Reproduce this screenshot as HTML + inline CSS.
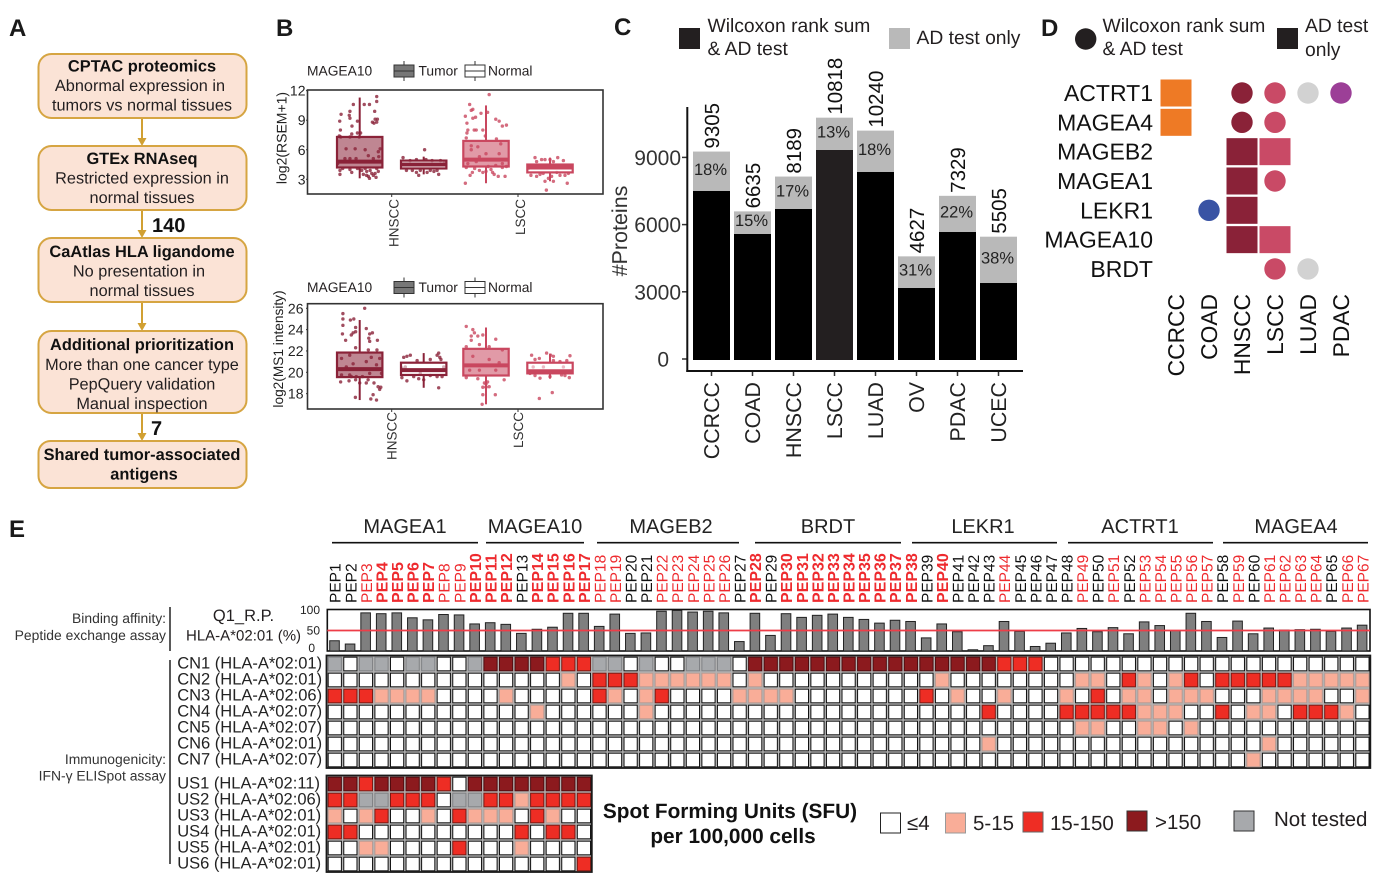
<!DOCTYPE html>
<html lang="en">
<head>
<meta charset="utf-8">
<title>Tumor-associated antigen figure</title>
<style>
html,body{margin:0;padding:0;background:#fff;}
svg{display:block;font-family:"Liberation Sans",Arial,sans-serif;fill:#231f20;text-rendering:geometricPrecision;}
.flow{fill:#fbe3d6;stroke:#d6a542;stroke-width:2;}
.ft{font-size:16.3px;text-anchor:middle;fill:#231f20;}
.fb{font-size:16.4px;text-anchor:middle;font-weight:bold;fill:#111;}
.arrow{stroke:#d1a032;stroke-width:2;fill:none;}
.arrowhead{fill:#d1a032;stroke:none;}
.panel{font-size:24px;font-weight:bold;fill:#1a1a1a;}
.lg{font-size:19.3px;}
.e14{font-size:13.9px;text-anchor:end;fill:#333;}
.sfu{font-size:20.8px;font-weight:bold;text-anchor:middle;fill:#111;}
.key{font-size:20.5px;}
</style>
</head>
<body>
<svg id="fig" xmlns="http://www.w3.org/2000/svg" width="1396" height="885" viewBox="0 0 1396 885">

<!-- Panel letters -->
<text class="panel" x="9" y="36">A</text>
<text class="panel" x="276" y="36">B</text>
<text class="panel" x="614" y="35">C</text>
<text class="panel" x="1041" y="36">D</text>
<text class="panel" x="9" y="537">E</text>

<!-- Panel A flow -->
<g>
  <g>
    <line class="arrow" x1="142" y1="118" x2="142" y2="140"/><path class="arrowhead" d="M137.5 138h9l-4.500 8z"/>
    <line class="arrow" x1="142" y1="210" x2="142" y2="232"/><path class="arrowhead" d="M137.500 230h9l-4.500 8z"/>
    <line class="arrow" x1="142" y1="302" x2="142" y2="325"/><path class="arrowhead" d="M137.500 323h9l-4.500 8z"/>
    <line class="arrow" x1="142" y1="413" x2="142" y2="435"/><path class="arrowhead" d="M137.500 433h9l-4.500 8z"/>
  </g>
  <rect class="flow" x="38.500" y="54" width="208" height="64" rx="13"/>
  <text class="fb" x="142" y="71.700">CPTAC proteomics</text>
  <text class="ft" x="140" y="91">Abnormal expression in</text>
  <text class="ft" x="142" y="110.500">tumors vs normal tissues</text>

  <rect class="flow" x="38.500" y="146" width="208" height="64" rx="13"/>
  <text class="fb" x="142" y="164">GTEx RNAseq</text>
  <text class="ft" x="142" y="183.500">Restricted expression in</text>
  <text class="ft" x="142" y="203">normal tissues</text>
  <text x="152" y="232" font-size="20" font-weight="bold" fill="#111">140</text>

  <rect class="flow" x="38.500" y="238" width="208" height="64" rx="13"/>
  <text class="fb" x="142" y="257">CaAtlas HLA ligandome</text>
  <text class="ft" x="139" y="276.500">No presentation in</text>
  <text class="ft" x="142" y="296">normal tissues</text>

  <rect class="flow" x="38.500" y="331" width="208" height="82" rx="13"/>
  <text class="fb" x="142" y="350">Additional prioritization</text>
  <text class="ft" x="142" y="370">More than one cancer type</text>
  <text class="ft" x="142" y="389.500">PepQuery validation</text>
  <text class="ft" x="142" y="409">Manual inspection</text>
  <text x="151" y="435" font-size="20" font-weight="bold" fill="#111">7</text>

  <rect class="flow" x="38.500" y="441" width="208" height="47" rx="12"/>
  <text class="fb" x="142" y="460">Shared tumor-associated</text>
  <text class="fb" x="144" y="479.500">antigens</text>
</g>

<!-- Panel B legends -->
<g id="panelB"></g>

<!-- Panel C legend -->
<g>
  <rect x="679" y="28" width="21" height="21" fill="#231f20"/>
  <text class="lg" x="707.500" y="32">Wilcoxon rank sum</text>
  <text class="lg" x="707.500" y="55">&amp; AD test</text>
  <rect x="889" y="28" width="21" height="21" fill="#b9b9b9"/>
  <text class="lg" x="916.500" y="44">AD test only</text>
</g>
<g id="panelC"></g>
<text x="627" y="231" font-size="21.500" text-anchor="middle" fill="#333" transform="rotate(-90 627 231)">#Proteins</text>

<!-- Panel D legend -->
<g>
  <circle cx="1085.700" cy="39" r="10.700" fill="#231f20"/>
  <text class="lg" x="1102.500" y="32">Wilcoxon rank sum</text>
  <text class="lg" x="1102.500" y="55">&amp; AD test</text>
  <rect x="1277" y="28" width="21" height="21" fill="#231f20"/>
  <text class="lg" x="1305" y="32">AD test</text>
  <text class="lg" x="1305" y="56">only</text>
</g>
<g id="panelD"></g>

<!-- Panel E static labels -->
<g>
  <text class="e14" x="166" y="623">Binding affinity:</text>
  <text class="e14" x="166" y="640">Peptide exchange assay</text>
  <text class="e14" x="166" y="764">Immunogenicity:</text>
  <text class="e14" x="166" y="780.500">IFN-γ ELISpot assay</text>
  <line x1="170" y1="607" x2="170" y2="651" stroke="#222" stroke-width="1.500"/>
  <line x1="170" y1="660" x2="170" y2="864" stroke="#222" stroke-width="1.500"/>
  <text x="243.500" y="621" font-size="16.500" text-anchor="middle">Q1_R.P.</text>
  <text x="186" y="640.500" font-size="15">HLA-A*02:01 (%)</text>
</g>
<g id="panelE"></g>

<!-- SFU legend -->
<g>
  <text class="sfu" x="730" y="818">Spot Forming Units (SFU)</text>
  <text class="sfu" x="733" y="843">per 100,000 cells</text>
  <rect x="880.500" y="813" width="20" height="20" fill="#fff" stroke="#222" stroke-width="1"/>
  <text class="key" x="907" y="830">≤4</text>
  <rect x="945.500" y="813" width="20" height="20" fill="#f9ad98" stroke="#999" stroke-width="1"/>
  <text class="key" x="973" y="830">5-15</text>
  <rect x="1023" y="812" width="20" height="20" fill="#ee2d24" stroke="#666" stroke-width="1"/>
  <text class="key" x="1050" y="830">15-150</text>
  <rect x="1127" y="811" width="20" height="20" fill="#8c1a1e" stroke="#333" stroke-width="1"/>
  <text class="key" x="1155" y="829">&gt;150</text>
  <rect x="1234" y="811" width="20" height="20" fill="#a7a9ac" stroke="#333" stroke-width="1"/>
  <text class="key" x="1274" y="826">Not tested</text>
</g>
</svg>

<script>
/* ---------- Panel B data: order HNSCC tumor, HNSCC normal, LSCC tumor, LSCC normal ---------- */
const boxCategories = ['HNSCC', 'LSCC'];
const boxSeriesColors = ['#8a2238', '#8a2238', '#c9475f', '#c9475f'];
const rsemTicks = [3, 6, 9, 12];
const rsemQ1 = [4.2, 4.1, 4.3, 3.7];
const rsemMedian = [4.8, 4.5, 5.0, 4.2];
const rsemQ3 = [7.3, 4.9, 6.9, 4.5];
const rsemLow = [3.1, 3.5, 2.6, 2.8];
const rsemHigh = [11.3, 5.3, 10.5, 5.2];
const rsemPoints = [
 [[.75,11.4],[.75,10.9],[-.28,10.6],[.2,10.6],[.43,10.6],[-.43,9.9],[-.82,9.6],[.66,9.9],[-.46,9.5],[-.43,9.2],[-.88,8.9],[-.1,8.9],[.56,8.8],[.68,9.1],[.78,9.1],[.63,8.7],[.75,8.8],[-.34,8.4],[-.85,8],[-.35,7.6],[-.1,7.7],[.04,7.7],[-.43,7.3],[-.9,7.4],[-.84,7.3],[-.02,7.3],[-.6,6.1],[-.2,6.1],[.24,6],[.9,6.1],[.82,5.8],[-.65,5.1],[-.43,5.1],[-.16,5.1],[.38,5.4],[.6,5.1],[.84,5.3],[-.87,3.9],[-.87,3.5],[-.75,4.1],[-.43,4],[-.35,3.7],[-.1,4.1],[.24,4.1],[.31,3.8],[.38,3.3],[.43,3.1],[.53,3.6],[.68,3.6],[.82,3.8],[.16,3.5],[.09,3.9],[.46,3.9],[.75,4.1],[-.97,4.6],[.6,3.4],[.72,3.2],[.3,3.4]],
 [[-.91,5.2],[.04,6],[-.32,5],[.37,4.9],[.74,4.9],[.91,4.8],[-.76,3.9],[-.32,3.7],[-.22,3.4],[.59,3.9],[.66,3.5],[.15,3.7],[.29,3.9],[-.5,3.9],[-.15,3.9],[.45,3.8],[-.6,4.9],[.1,5]],
 [[.14,11.6],[-.72,10.6],[-.65,10],[-.58,10.1],[-.22,9.7],[.07,9.8],[-.91,9.4],[-.58,9.2],[-.46,9.3],[.43,9.1],[.58,8.9],[-.84,8.7],[.72,8.4],[.9,8.5],[-.8,8],[-.52,8],[-.43,8],[-.14,8],[-.84,7.7],[-.03,7.4],[-.87,7.2],[.46,7.1],[.65,6.6],[-.65,6.4],[-.36,6.3],[0,5.6],[.58,5.6],[-.65,6],[-.29,5.3],[.72,4.6],[-.8,4.6],[-.43,4.8],[.43,4.4],[-.91,2.6],[-.6,3.7],[-.14,3.7],[.29,3.7],[.54,3.3],[.84,3.3],[-.87,4.2],[-.5,4.1],[-.29,3.9],[0,3.8],[.22,4],[.36,3.5],[.72,4.2],[.9,4.3],[-.7,3.4],[.1,4.3]],
 [[-.66,5.2],[.34,5.2],[-.37,5],[-.22,5],[0,5],[.59,4.9],[-.59,4.8],[.15,4.8],[-.84,3.4],[-.59,3.3],[-.44,3.5],[-.16,1.9],[-.22,2.8],[.15,2.8],[.76,2.6],[.44,3.4],[.66,3.4],[-.07,3.1],[.07,3.3],[.81,3.6],[.96,4.4],[-.95,4.1],[-.3,3.6],[.3,3.7]]
];
const msTicks = [18, 20, 22, 24, 26];
const msQ1 = [19.55, 19.75, 19.7, 19.9];
const msMedian = [20.3, 20.2, 20.65, 20.1];
const msQ3 = [21.85, 20.9, 22.2, 20.9];
const msLow = [17.4, 18.55, 17, 19.4];
const msHigh = [24.9, 21.8, 24.2, 21.75];
const msPoints = [
 [[-.74,25.5],[.22,26],[-.74,25],[-.74,24.4],[-.41,24.9],[-.26,25],[-.18,24.2],[.29,24.1],[-.18,23.8],[-.29,23.7],[-.76,23.6],[.44,23.6],[.56,23.7],[-.37,23.5],[.4,23.2],[-.62,23],[.44,22.9],[.78,23],[-.18,22.3],[.38,22.1],[.76,22.1],[-.44,21.6],[-.8,21.3],[.51,21.4],[.88,21.3],[-.59,20.5],[-.29,20.8],[.29,21],[.74,20.7],[-.8,19.75],[-.44,19.75],[-.15,19.6],[.44,19.9],[.96,19.9],[-.84,19.1],[-.47,19.2],[-.18,19.3],[0,19],[.29,19],[.63,19],[.81,18.65],[.93,18.6],[.88,18.4],[-.19,17.65],[.59,17.9],[.49,17.5],[.74,17.4],[.12,19.6],[.37,19.3],[-.37,19.6]],
 [[-.88,21.4],[-.59,21.6],[-.74,21.5],[.66,21.8],[.71,21.4],[.59,21.6],[-.29,21.1],[.29,21.2],[.76,21.2],[.88,20.5],[-.96,20.4],[-.81,20.5],[-.44,20.2],[-.15,19.9],[.15,20.2],[.5,20.2],[-.74,19.2],[-.96,19.5],[-.44,19.6],[-.22,19.4],[0,19.3],[.66,18.55],[.29,19.7],[.59,19.6],[.81,19.6]],
 [[-.87,24.3],[-.58,24],[-.51,23.7],[-.65,23.4],[-.36,23.4],[-.14,23.5],[.43,23.1],[-.65,23],[-.87,22.4],[-.29,22.6],[.14,22.4],[.72,22.1],[-.58,21.5],[.14,21.2],[.58,20.9],[-.72,20.2],[-.29,20.2],[.43,20.2],[-.87,19.5],[-.36,19.4],[-.07,19],[.07,19.1],[0,18.6],[-.14,18.6],[.8,19.3],[.14,18.65],[-.14,17.9],[.41,17.9],[-.17,17],[0,18.9]],
 [[-.81,21.6],[-.47,21.3],[-.66,21.2],[-.15,21.8],[.03,21.6],[.15,21.5],[.88,21.55],[.74,21.1],[.15,21.1],[.44,21],[-.74,20.5],[-.29,20.5],[.59,20.5],[-.66,19.7],[-.88,19.9],[-.44,19.45],[0,19.6],[.51,19.75],[.66,19.7],[.85,19.5],[-.47,17.55],[.1,18.1]]
];

/* ---------- Panel C data ---------- */
const cancerCategories = ['CCRCC','COAD','HNSCC','LSCC','LUAD','OV','PDAC','UCEC'];
const totalProteins = [9305,6635,8189,10818,10240,4627,7329,5505];
const wilcoxonAndAd = [7545,5625,6741,9375,8393,3214,5714,3437];
const adOnlyPercent = ['18%','15%','17%','13%','18%','31%','22%','38%'];
const proteinTicks = [0,3000,6000,9000];

/* ---------- Panel D data: 0 none, 1 circle, 2 square ---------- */
const dotGenes = ['ACTRT1','MAGEA4','MAGEB2','MAGEA1','LEKR1','MAGEA10','BRDT'];
const dotCancers = ['CCRCC','COAD','HNSCC','LSCC','LUAD','PDAC'];
const dotColors = ['#ee7a25','#3953a4','#8a2238','#c94a66','#d2d2d2','#9c3f97'];
const dotMatrix = [
 [2,0,1,1,1,1],
 [2,0,1,1,0,0],
 [0,0,2,2,0,0],
 [0,0,2,1,0,0],
 [0,1,2,0,0,0],
 [0,0,2,2,0,0],
 [0,0,0,1,1,0]
];

/* ---------- Panel E data ---------- */
const geneGroups = ['MAGEA1','MAGEA10','MAGEB2','BRDT','LEKR1','ACTRT1','MAGEA4'];
/* 0 black regular, 1 red regular, 2 red bold */
const pepLabelStyle = [
 0,0,1,2,2,2,2,1,1,2,
 2,2,0,2,2,2,2,1,1,0,
 0,1,1,1,1,1,0,2,0,2,
 2,2,2,2,2,2,2,2,0,2,
 0,0,0,1,0,0,0,0,1,0,
 1,0,1,1,1,1,1,0,1,0,
 1,1,1,1,0,1,1
];
const q1Percent = [
 25,17,93,91,93,81,76,89,88,66,
 69,65,43,53,58,92,92,60,90,43,
 44,97,99,95,97,93,23,92,38,91,
 82,87,90,82,77,68,75,72,32,66,
 47,3,13,72,48,11,19,44,55,47,
 57,42,71,62,50,92,72,33,73,42,
 56,51,52,53,48,56,63
];
const q1Ticks = [0,50,100];
const thresholdPercent = [50];
/* 0 <=4, 1 5-15, 2 15-150, 3 >150, 4 not tested */
const cnDonors = ['CN1 (HLA-A*02:01)','CN2 (HLA-A*02:01)','CN3 (HLA-A*02:06)','CN4 (HLA-A*02:07)','CN5 (HLA-A*02:07)','CN6 (HLA-A*02:01)','CN7 (HLA-A*02:07)'];
const cnMatrix = [
 [4,0,4,4,0,4,4,0,0,4, 3,3,3,3,2,2,2,4,4,0, 4,0,0,4,4,4,0,3,3,3, 3,3,3,3,3,3,3,3,3,3, 3,3,3,2,2,2,0,0,0,0, 0,0,0,0,0,0,0,0,0,0, 0,0,0,0,0,0,0],
 [0,0,0,0,0,0,0,0,0,0, 0,0,0,0,0,1,0,2,2,2, 1,1,1,1,1,1,0,1,0,0, 0,0,0,0,0,0,0,0,0,1, 0,0,0,0,0,0,0,0,1,1, 0,2,1,0,1,2,0,2,2,2, 2,2,1,1,1,1,1],
 [2,2,2,1,1,1,1,0,0,0, 0,1,0,0,0,0,0,2,1,0, 1,2,0,0,0,0,1,1,1,1, 0,0,0,0,0,0,0,0,2,0, 1,0,0,1,0,0,0,1,0,2, 0,1,1,0,1,1,1,0,0,0, 1,1,1,1,0,0,1],
 [0,0,0,0,0,0,0,0,0,0, 0,0,0,1,0,0,0,0,0,0, 1,0,0,0,0,0,0,0,0,0, 0,0,0,0,0,0,0,0,0,0, 0,0,2,0,0,0,0,2,2,2, 2,2,1,1,1,0,0,2,0,1, 1,0,2,2,2,1,0],
 [0,0,0,0,0,0,0,0,0,0, 0,0,0,0,0,0,0,0,0,0, 0,0,0,0,0,0,0,0,0,0, 0,0,0,0,0,0,0,0,0,0, 0,0,0,0,0,0,0,0,1,1, 0,0,1,1,0,1,0,0,0,0, 0,0,0,0,0,0,0],
 [0,0,0,0,0,0,0,0,0,0, 0,0,0,0,0,0,0,0,0,0, 0,0,0,0,0,0,0,0,0,0, 0,0,0,0,0,0,0,0,0,0, 0,0,1,0,0,0,0,0,0,0, 0,0,0,0,0,0,0,0,0,0, 1,0,0,0,0,0,0],
 [0,0,0,0,0,0,0,0,0,0, 0,0,0,0,0,0,0,0,0,0, 0,0,0,0,0,0,0,0,0,0, 0,0,0,0,0,0,0,0,0,0, 0,0,0,0,0,0,0,0,0,0, 0,0,0,0,0,0,0,0,0,1, 0,0,0,0,0,0,0]
];
const usDonors = ['US1 (HLA-A*02:11)','US2 (HLA-A*02:06)','US3 (HLA-A*02:01)','US4 (HLA-A*02:01)','US5 (HLA-A*02:01)','US6 (HLA-A*02:01)'];
const usMatrix = [
 [3,3,2,3,3,3,3,2,0,3,3,3,3,3,3,3,3],
 [2,2,4,4,2,2,2,0,4,4,2,2,1,2,2,2,2],
 [1,0,1,2,0,0,1,0,2,1,1,1,0,2,1,0,0],
 [2,2,0,0,0,0,0,0,0,0,0,0,2,0,2,2,0],
 [0,0,1,1,0,0,0,0,2,0,0,0,1,0,0,0,0],
 [0,0,0,0,0,0,0,0,0,0,0,0,0,0,0,0,2]
];

/* ---------- helpers ---------- */
const SVGNS = 'http://www.w3.org/2000/svg';
function make(tag, attrs, parent, text) {
  const node = document.createElementNS(SVGNS, tag);
  for (const k in attrs) node.setAttribute(k, attrs[k]);
  if (text !== undefined) node.textContent = text;
  parent.appendChild(node);
  return node;
}
function vText(x, y, str, size, fill, anchor, weight, parent) {
  return make('text', {x: x, y: y, 'font-size': size, fill: fill, 'text-anchor': anchor, 'font-weight': weight || 'normal', transform: 'rotate(-90 ' + x + ' ' + y + ')'}, parent, str);
}

/* ---------- Panel B ---------- */
const boxHalfWidth = 22.7;
function boxX(s) {
  const cat = Math.floor(s / 2);
  const tick = 391.7 + cat * 126.3;
  return tick + (s % 2 === 0 ? -32 : 32);
}
function drawBoxPanel(root, cfg) {
  const y = cfg.yScale;
  const frame = make('rect', {x: 307.5, y: cfg.top, width: 295.5, height: cfg.bottom - cfg.top, fill: 'none', stroke: '#333', 'stroke-width': 1.6}, root);
  
  

  const gene = make('text', {x: 307, y: cfg.legendY + 4.5, 'font-size': 13.8}, root, 'MAGEA10');
  
  

  const keyFills = ['#777', '#fff'];
  const keyX = [394, 465];
  const keyLabels = ['Tumor', 'Normal'];
  const keyTextX = [418.5, 488];
  keyFills.forEach(function (f, i) {
    const stem = make('line', {x1: keyX[i] + 10, x2: keyX[i] + 10, y1: cfg.legendY - 10, y2: cfg.legendY + 10, stroke: '#333', 'stroke-width': 1}, root);
    
    
    const kb = make('rect', {x: keyX[i], y: cfg.legendY - 6, width: 20, height: 12, fill: f, stroke: '#333', 'stroke-width': 1}, root);
    
    
    const km = make('line', {x1: keyX[i], x2: keyX[i] + 20, y1: cfg.legendY, y2: cfg.legendY, stroke: '#333', 'stroke-width': 1}, root);
    
    
    const kt = make('text', {x: keyTextX[i], y: cfg.legendY + 4.5, 'font-size': 13.8}, root, keyLabels[i]);
    
    
  });

  cfg.ticks.forEach(function (t) {
    const tm = make('line', {x1: 306, x2: 307.5, y1: y(t), y2: y(t), stroke: '#333', 'stroke-width': 1}, root);
    
    
    const tl = make('text', {x: cfg.tickEnd, y: y(t) + 5, 'font-size': 14, 'text-anchor': 'end', fill: '#222'}, root, t);
    
    
  });
  const yt = vText(cfg.titleX, cfg.titleY, cfg.title, cfg.titleSize, '#222', 'middle', 'normal', root);
  
  

  boxCategories.forEach(function (c, i) {
    const tx = 391.7 + i * 126.3;
    const tm = make('line', {x1: tx, x2: tx, y1: cfg.bottom, y2: cfg.bottom + 3, stroke: '#333', 'stroke-width': 1}, root);
    
    
    const tl = vText(tx + cfg.labelDx, cfg.bottom + cfg.labelDy, c, 13.5, '#333', 'end', 'normal', root);
    
    
  });

  cfg.q1.forEach(function (_, s) {
    const cx = boxX(s);
    const color = boxSeriesColors[s];
    const tumor = s % 2 === 0;
    cfg.points[s].forEach(function (p) {
      const dot = make('circle', {cx: cx + p[0] * boxHalfWidth, cy: y(p[1]), r: 1.7, fill: color, 'fill-opacity': .8}, root);
      
      
    });
    const hi = make('line', {x1: cx, x2: cx, y1: y(cfg.high[s]), y2: y(cfg.q3[s]), stroke: color, 'stroke-width': 2}, root);
    
    
    const lo = make('line', {x1: cx, x2: cx, y1: y(cfg.q1[s]), y2: y(cfg.low[s]), stroke: color, 'stroke-width': 2}, root);
    
    
    const box = make('rect', {x: cx - boxHalfWidth, y: y(cfg.q3[s]), width: boxHalfWidth * 2, height: y(cfg.q1[s]) - y(cfg.q3[s]), fill: tumor ? color : '#fff', 'fill-opacity': tumor ? .55 : .55, stroke: color, 'stroke-width': 2.2}, root);
    
    
    const med = make('line', {x1: cx - boxHalfWidth, x2: cx + boxHalfWidth, y1: y(cfg.median[s]), y2: y(cfg.median[s]), stroke: color, 'stroke-width': 4}, root);
    
    
  });
}
const panelB = document.getElementById('panelB');
drawBoxPanel(panelB, {
  top: 90, bottom: 194, legendY: 71, ticks: rsemTicks, title: 'log2(RSEM+1)', titleX: 286.5, titleY: 138, titleSize: 14, tickEnd: 305.5, labelDx: 7, labelDy: 5,
  yScale: function (v) { return 179.3 - (v - 3) * 9.85; },
  q1: rsemQ1, median: rsemMedian, q3: rsemQ3, low: rsemLow, high: rsemHigh, points: rsemPoints
});
drawBoxPanel(panelB, {
  top: 303.7, bottom: 409, legendY: 287.5, ticks: msTicks, title: 'log2(MS1 intensity)', titleX: 283, titleY: 349, titleSize: 13.7, tickEnd: 303.5, labelDx: 5, labelDy: 3,
  yScale: function (v) { return 372.3 - (v - 20) * 10.67; },
  q1: msQ1, median: msMedian, q3: msQ3, low: msLow, high: msHigh, points: msPoints
});

/* ---------- Panel C ---------- */
const panelC = document.getElementById('panelC');
function protY(v) { return 360 - v * 0.0224; }
function protX(i) { return 693 + i * 41; }
const protBarW = 37;
cancerCategories.forEach(function (c, i) {
  const x = protX(i);
  const gray = make('rect', {x: x, y: protY(totalProteins[i]), width: protBarW, height: protY(wilcoxonAndAd[i]) - protY(totalProteins[i]), fill: '#b9b9b9'}, panelC);
  
  
  const black = make('rect', {x: x, y: protY(wilcoxonAndAd[i]), width: protBarW, height: protY(0) - protY(wilcoxonAndAd[i]), fill: c === 'LSCC' ? '#231f20' : '#000'}, panelC);
  
  
  const pct = make('text', {x: x + protBarW / 2 - 1, y: (protY(totalProteins[i]) + protY(wilcoxonAndAd[i])) / 2 + 3.5, 'font-size': 16.5, 'text-anchor': 'middle', fill: '#222'}, panelC, adOnlyPercent[i]);
  
  
  const tot = vText(x + protBarW / 2 + 7.5, protY(totalProteins[i]) - 3, totalProteins[i], 20.5, '#111', 'start', 'normal', panelC);
  
  
  const tk = make('line', {x1: x + protBarW / 2, x2: x + protBarW / 2, y1: 371, y2: 376, stroke: '#333', 'stroke-width': 1.5}, panelC);
  
  
  const cl = vText(x + protBarW / 2 + 7.5, 382, c, 21.4, '#222', 'end', 'normal', panelC);
  
  
});
proteinTicks.forEach(function (t) {
  const ty = protY(t) - 1;
  const tk = make('line', {x1: 682, x2: 687, y1: ty, y2: ty, stroke: '#333', 'stroke-width': 1.5}, panelC);
  
  
  const tl = make('text', {x: t === 0 ? 669 : 681, y: ty + 7.5, 'font-size': 21, 'text-anchor': 'end', fill: '#333'}, panelC, t);
  
  
});
const yAxisC = make('line', {x1: 687.3, x2: 687.3, y1: 107, y2: 372, stroke: '#111', 'stroke-width': 2}, panelC);


const xAxisC = make('line', {x1: 686.3, x2: 1023, y1: 371, y2: 371, stroke: '#111', 'stroke-width': 2}, panelC);



/* ---------- Panel D ---------- */
const panelD = document.getElementById('panelD');
function dotX(j) { return 1176 + j * 33; }
function dotY(i) { return 93 + i * 29.33; }
dotGenes.forEach(function (g, i) {
  const gl = make('text', {x: 1153, y: dotY(i) + 8, 'font-size': 23, 'text-anchor': 'end', fill: '#111'}, panelD, g);
  
  
  dotMatrix[i].forEach(function (kind, j) {
    if (kind === 1) {
      const dot = make('circle', {cx: dotX(j), cy: dotY(i), r: 10.7, fill: dotColors[j]}, panelD);
      
      
    } else if (kind === 2) {
      const sq = make('rect', {x: dotX(j) - 15.5, y: dotY(i) - 13.5, width: 31, height: 27, fill: dotColors[j]}, panelD);
      
      
    }
  });
});
dotCancers.forEach(function (c, j) {
  const cl = vText(dotX(j) + 8, 294, c, 22.8, '#111', 'end', 'normal', panelD);
  
  
});

/* ---------- Panel E ---------- */
const panelE = document.getElementById('panelE');
const cellPitch = 15.57;
function colX(i) { return 328 + i * cellPitch; }
function rowCN(r) { return 657 + r * 16; }
function rowUS(r) { return 777 + r * 16; }
function q1Y(v) { return 651 - v * 0.41; }
const cellFill = ['#ffffff', '#f9ad98', '#ee2d24', '#8c1a1e', '#a7a9ac'];
const cellStroke = ['#111', '#b89a92', '#7a1a14', '#4f0d10', '#808285'];
const groupBracketLeft = [332, 486, 597, 755, 912, 1068, 1223];
const groupBracketRight = [478, 584, 739, 901, 1057, 1213, 1368];
const groupTitleCenter = [405, 535, 671, 828, 983, 1140, 1296];

geneGroups.forEach(function (g, i) {
  const gl = make('text', {x: groupTitleCenter[i], y: 533, 'font-size': 20, 'text-anchor': 'middle', fill: '#222'}, panelE, g);
  
  
  const ln = make('line', {x1: groupBracketLeft[i], x2: groupBracketRight[i], y1: 542.7, y2: 542.7, stroke: '#111', 'stroke-width': 1.6}, panelE);
  
  
});

const q1Frame = make('rect', {x: 327.3, y: 609.5, width: 1042.7, height: 41.5, fill: '#fff', stroke: '#111', 'stroke-width': 1.6}, panelE);


q1Ticks.forEach(function (t) {
  const tl = make('text', {x: t === 0 ? 315 : 320, y: q1Y(t) + (t === 0 ? 1 : 4), 'font-size': 12, 'text-anchor': 'end', fill: '#222'}, panelE, t);
  
  
});
pepLabelStyle.forEach(function (st, i) {
  const lab = vText(colX(i) + 12.7, 603, 'PEP' + (i + 1), st === 2 ? 16 : 15.5, st === 0 ? '#111' : '#ee2a2e', 'start', st === 2 ? 'bold' : 'normal', panelE);
  
  
  const bar = make('rect', {x: colX(i) + 1.7, y: q1Y(q1Percent[i]), width: 9.6, height: 651 - q1Y(q1Percent[i]), fill: '#7f7f7f', stroke: '#222', 'stroke-width': 1}, panelE);
  
  
});
thresholdPercent.forEach(function (t) {
  const ln = make('line', {x1: 327.3, x2: 1370, y1: q1Y(t), y2: q1Y(t), stroke: '#ee3d48', 'stroke-width': 1.8}, panelE);
  
  
});

function drawHeat(matrix, donors, rowY, frameName) {
  const cols = matrix[0].length;
  const left = colX(0) - 1.5;
  const right = colX(cols - 1) + 13.5 + 1.2;
  const top = rowY(0) - 1.5;
  const bottom = rowY(donors.length - 1) + 14 + 1;
  const bg = make('rect', {x: left, y: top, width: right - left, height: bottom - top, fill: '#b3b3b3', stroke: '#1a1a1a', 'stroke-width': 1.8}, panelE);
  
  
  donors.forEach(function (d, r) {
    const dl = make('text', {x: 177.2, y: rowY(r) + 11.5, 'font-size': 16.5, fill: '#222'}, panelE, d);
    
    
    matrix[r].forEach(function (code, c) {
      const cell = make('rect', {x: colX(c) + 0.2, y: rowY(r) + 0.2, width: 13.2, height: 13.6, fill: cellFill[code], stroke: cellStroke[code], 'stroke-width': 1}, panelE);
      
      
    });
  });
}
drawHeat(cnMatrix, cnDonors, rowCN, 'cn-heatmap-frame');
drawHeat(usMatrix, usDonors, rowUS, 'us-heatmap-frame');
</script>
</body>
</html>
